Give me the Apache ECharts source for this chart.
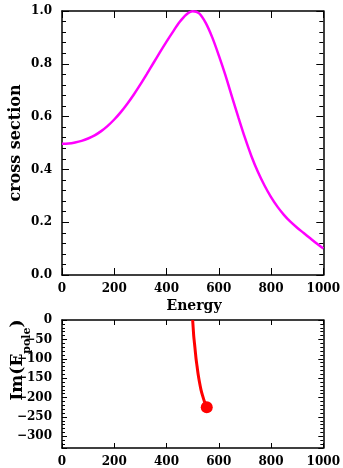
<!DOCTYPE html>
<html>
<head>
<meta charset="utf-8">
<script src="https://cdn.jsdelivr.net/npm/echarts@6/dist/echarts.min.js"></script>
<style>
html,body{margin:0;padding:0;background:#fff;}
#c{width:343px;height:468px;}
</style>
</head>
<body>
<div id="c"></div>
<script>
// ---- data ----
const energy = [0,25,50,75,100,125,150,175,200,225,250,275,300,325,350,375,400,425,450,475,500,525,550,575,600,625,650,675,700,725,750,775,800,825,850,875,900,925,950,975,1000];
const crossSection = [0.497,0.498,0.502,0.508,0.517,0.529,0.545,0.565,0.589,0.617,0.649,0.684,0.722,0.762,0.803,0.844,0.884,0.922,0.958,0.986,0.999,0.991,0.955,0.900,0.832,0.758,0.677,0.597,0.520,0.450,0.390,0.339,0.295,0.258,0.227,0.201,0.179,0.159,0.139,0.119,0.100];
const poleRe = [500,502,504,507,510,513,517,521,526,532,538,545,554];
const poleIm = [0,-20,-40,-60,-80,-100,-120,-140,-160,-180,-195,-210,-225];
const poleEndRe = [554];
const poleEndIm = [-225];
const xTicks = [0,200,400,600,800,1000];
const yTicksTop = [0,0.2,0.4,0.6,0.8,1.0];
const yTicksBottom = [0,-50,-100,-150,-200,-250,-300];

const FONT = 'DejaVu Serif';
const lbl = {fontFamily: FONT, fontWeight: 'bold', fontSize: 12, color: '#000'};
const axLine = {show: true, onZero: false, lineStyle: {color: '#000', width: 1.5}};

const chart = echarts.init(document.getElementById('c'), null, {renderer: 'canvas'});

function xAx(grid, pos, showLabel, tickLen) {
  return {
    type: 'value', gridIndex: grid, position: pos, min: 0, max: 1000, interval: 200,
    axisLine: axLine,
    axisTick: {show: true, inside: true, length: tickLen, lineStyle: {color: '#000', width: 1}},
    minorTick: {show: false},
    splitLine: {show: false},
    axisLabel: showLabel ? Object.assign({show: true, margin: 8,
      formatter: v => xTicks.includes(v) ? String(v) : ''}, lbl) : {show: false}
  };
}

function yAx(grid, pos, min, max, extra, showLabel, fmt, tickLen, minorLen) {
  return Object.assign({
    type: 'value', gridIndex: grid, position: pos, min: min, max: max,
    axisLine: axLine,
    axisTick: {show: true, inside: true, length: tickLen, lineStyle: {color: '#000', width: 1}},
    minorTick: {show: true, splitNumber: 5, length: minorLen, lineStyle: {color: '#000', width: 1}},
    splitLine: {show: false},
    axisLabel: showLabel ? Object.assign({show: true, margin: 10, formatter: fmt}, lbl) : {show: false}
  }, extra);
}

const topFmt = v => {
  const t = yTicksTop.find(k => Math.abs(k - v) < 1e-9);
  return t === undefined ? '' : t.toFixed(1);
};
const botFmt = v => {
  if (!yTicksBottom.includes(v)) return '';
  return v < 0 ? '\u2212' + Math.abs(v) : String(v);
};

const option = {
  animation: false,
  backgroundColor: '#fff',
  grid: [
    {left: 62, top: 11, width: 264, height: 264, show: false},
    {left: 62, top: 320, width: 264, height: 132, show: false}
  ],
  xAxis: [
    xAx(0, 'bottom', true, 7),
    xAx(0, 'top', false, 7),
    xAx(1, 'bottom', true, 5),
    xAx(1, 'top', false, 5)
  ],
  yAxis: [
    yAx(0, 'left', 0, 1, {interval: 0.2}, true, topFmt, 7, 4),
    yAx(0, 'right', 0, 1, {interval: 0.2}, false, null, 7, 4),
    yAx(1, 'left', -330, 0, {splitNumber: 7}, true, botFmt, 5, 3),
    yAx(1, 'right', -330, 0, {splitNumber: 7}, false, null, 5, 3)
  ],
  series: [
    {
      type: 'line', xAxisIndex: 0, yAxisIndex: 0,
      data: energy.map((e, i) => [e, crossSection[i]]),
      smooth: 0.3, showSymbol: false, symbol: 'none',
      lineStyle: {color: '#ff00ff', width: 2.5}
    },
    {
      type: 'line', xAxisIndex: 2, yAxisIndex: 2,
      data: poleRe.map((e, i) => [e, poleIm[i]]),
      smooth: 0.3, showSymbol: false, symbol: 'none',
      lineStyle: {color: '#ff0000', width: 3}
    },
    {
      type: 'scatter', xAxisIndex: 2, yAxisIndex: 2,
      data: poleEndRe.map((e, i) => [e, poleEndIm[i]]),
      symbol: 'circle', symbolSize: 12,
      itemStyle: {color: '#ff0000', opacity: 1}
    }
  ],
  graphic: [
    {
      type: 'text', x: 16, y: 143, rotation: Math.PI / 2,
      style: {text: 'cross section', fontFamily: FONT, fontWeight: 'bold', fontSize: 16, fill: '#000',
        align: 'center', verticalAlign: 'middle'}
    },
    {
      type: 'text', x: 194, y: 306,
      style: {text: 'Energy', fontFamily: FONT, fontWeight: 'bold', fontSize: 14, fill: '#000',
        align: 'center', verticalAlign: 'middle'}
    },
    {
      type: 'text', x: 18, y: 360, rotation: Math.PI / 2,
      style: {
        text: '{a|Im(E}{b|pole}{a|)}',
        align: 'center', verticalAlign: 'middle',
        rich: {
          a: {fontFamily: FONT, fontWeight: 'bold', fontSize: 17, lineHeight: 29, fill: '#000'},
          b: {fontFamily: FONT, fontWeight: 'bold', fontSize: 11, lineHeight: 11, verticalAlign: 'bottom', fill: '#000'}
        }
      }
    }
  ]
};
chart.setOption(option);
</script>
</body>
</html>
